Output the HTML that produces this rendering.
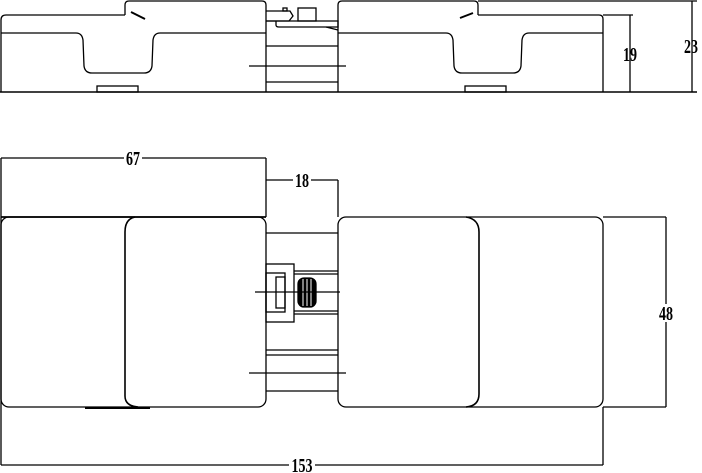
<!DOCTYPE html>
<html><head><meta charset="utf-8"><style>
html,body{margin:0;padding:0;background:#fff;}
svg{display:block;}
text{font-family:"Liberation Serif",serif;font-size:20px;font-weight:bold;fill:#000;stroke:none;}
</style></head><body>
<svg width="702" height="473" viewBox="0 0 702 473" xmlns="http://www.w3.org/2000/svg" fill="none" stroke="#000" stroke-width="1.3">
<path d="M1,92 L1,20 Q1,15 6,15 L125,15"/>
<path d="M125,15 L125,5 Q125,1 129,1 L262,1 Q266,1 266,5 L266,92"/>
<path d="M131,12 L145,19" stroke-width="2"/>
<path d="M1,33 L76,33 Q82,33 83,40 L84,66 Q85,73 92,73 L144,73 Q151,73 152,66 L153,40 Q154,33 160,33 L266,33"/>
<rect x="97" y="86" width="41" height="6"/>
<path d="M266,11 L290,11 L293,16 L289,21 L266,21"/>
<rect x="283" y="8" width="4" height="3"/>
<rect x="298" y="8" width="18" height="13"/>
<path d="M276,21 L276,25 Q276,27 279,27 L338,27 L338,21 L266,21"/>
<path d="M326,27 L338,30"/>
<line x1="266" y1="46" x2="338" y2="46"/>
<line x1="266" y1="82" x2="338" y2="82"/>
<line x1="249" y1="66" x2="346" y2="66"/>
<path d="M338,92 L338,5 Q338,1 342,1 L474,1 Q478,1 478,5 L478,15"/>
<path d="M478,15 L599,15 Q603,15 603,19 L603,92"/>
<path d="M460,18 L473,13" stroke-width="2"/>
<path d="M338,33 L446,33 Q452,33 453,40 L454,66 Q455,73 462,73 L513,73 Q520,73 521,66 L522,40 Q523,33 529,33 L603,33"/>
<rect x="465" y="86" width="41" height="6"/>
<line x1="0" y1="92" x2="697" y2="92" stroke-width="1.6"/>
<line x1="478" y1="1" x2="697" y2="1"/>
<line x1="603" y1="15" x2="633" y2="15"/>
<line x1="630" y1="15" x2="630" y2="92"/>
<line x1="692" y1="1" x2="692" y2="92"/>
<text x="630" y="61" text-anchor="middle" transform="translate(630 0) scale(0.7 1) translate(-630 0)">19</text>
<text x="691" y="53" text-anchor="middle" transform="translate(691 0) scale(0.7 1) translate(-691 0)">23</text>

<line x1="1" y1="158" x2="1" y2="465"/>
<line x1="1" y1="158" x2="124" y2="158"/>
<line x1="142" y1="158" x2="266" y2="158"/>
<line x1="266" y1="158" x2="266" y2="217"/>
<text x="133" y="165" text-anchor="middle" transform="translate(133 0) scale(0.7 1) translate(-133 0)">67</text>
<line x1="266" y1="180" x2="293" y2="180"/>
<line x1="311" y1="180" x2="338" y2="180"/>
<line x1="338" y1="180" x2="338" y2="217"/>
<text x="302" y="187" text-anchor="middle" transform="translate(302 0) scale(0.7 1) translate(-302 0)">18</text>
<rect x="1" y="217" width="265" height="190" rx="8"/>
<path d="M135,217 Q125,219 125,232 L125,396 Q125,406 138,407" stroke-width="1.6"/>
<line x1="85" y1="408" x2="150" y2="408" stroke-width="2"/>
<line x1="1" y1="217" x2="266" y2="217" stroke-width="1.8"/>
<line x1="266" y1="233" x2="338" y2="233"/>
<line x1="266" y1="350" x2="338" y2="350"/>
<line x1="266" y1="355" x2="338" y2="355"/>
<line x1="266" y1="391" x2="338" y2="391"/>
<rect x="266" y="264" width="28" height="58"/>
<rect x="266" y="273" width="19" height="39"/>
<rect x="276" y="277" width="9" height="31"/>
<line x1="294" y1="271" x2="338" y2="271"/>
<line x1="294" y1="274" x2="338" y2="274"/>
<line x1="294" y1="311" x2="338" y2="311"/>
<line x1="294" y1="314" x2="338" y2="314"/>
<rect x="298" y="278" width="18" height="29" rx="6" fill="#000"/>
<line x1="303" y1="279" x2="303" y2="306" stroke="#fff" stroke-width="1"/>
<line x1="307" y1="279" x2="307" y2="306" stroke="#fff" stroke-width="1"/>
<line x1="311" y1="279" x2="311" y2="306" stroke="#fff" stroke-width="1"/>
<line x1="255" y1="292" x2="340" y2="292"/>
<line x1="249" y1="373" x2="346" y2="373"/>
<rect x="338" y="217" width="265" height="190" rx="8"/>
<path d="M466,217 Q479,219 479,232 L479,394 Q479,406 466,407" stroke-width="1.6"/>
<line x1="603" y1="217" x2="666" y2="217"/>
<line x1="603" y1="407" x2="666" y2="407"/>
<line x1="666" y1="217" x2="666" y2="304"/>
<line x1="666" y1="322" x2="666" y2="407"/>
<text x="666" y="320" text-anchor="middle" transform="translate(666 0) scale(0.7 1) translate(-666 0)">48</text>
<line x1="603" y1="407" x2="603" y2="465"/>
<line x1="1" y1="465" x2="289" y2="465"/>
<line x1="315" y1="465" x2="603" y2="465"/>
<text x="302" y="472" text-anchor="middle" transform="translate(302 0) scale(0.7 1) translate(-302 0)">153</text>
</svg>
</body></html>
